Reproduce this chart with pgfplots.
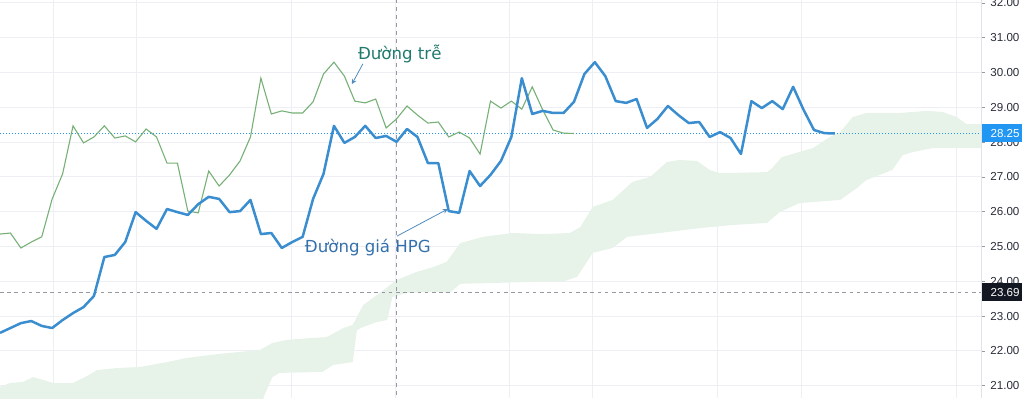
\documentclass[border=0pt]{standalone}
\usepackage{fontspec}
\setmainfont{DejaVu Sans}
\newfontfamily\tickfont{Liberation Sans}
\usepackage{pgfplots}
\pgfplotsset{compat=1.18}
\usetikzlibrary{arrows.meta}
\definecolor{pxblue}{RGB}{58,142,208}
\definecolor{lagg}{RGB}{118,176,118}
\definecolor{cloudg}{RGB}{231,243,232}
\definecolor{gridc}{RGB}{237,239,244}
\definecolor{lblc}{RGB}{40,44,56}
\definecolor{tvblue}{RGB}{33,150,243}
\definecolor{tvblack}{RGB}{19,23,34}
\definecolor{crossc}{RGB}{150,153,162}
\definecolor{teal}{RGB}{32,122,110}
\definecolor{annblue}{RGB}{52,112,172}
\definecolor{arrowc}{RGB}{80,140,190}
\definecolor{sepc}{RGB}{224,227,235}
\begin{document}
\begin{tikzpicture}
\useasboundingbox (0,0) rectangle (512pt,199pt);
\begin{axis}[
  at={(0,0)}, anchor=south west,
  scale only axis, width=490.5pt, height=199pt,
  xmin=0, xmax=94, ymin=20.649, ymax=32.086,
  axis line style={draw=none},
  ytick={21,22,23,24,25,26,27,28,29,30,31,32},
  yticklabels={21.00,22.00,23.00,24.00,25.00,26.00,27.00,28.00,29.00,30.00,31.00,32.00},
  ytick pos=right, yticklabel pos=right,
  yticklabel style={font=\tickfont\fontsize{5.8pt}{7pt}\selectfont, text=lblc, anchor=west, inner sep=0pt, xshift=2.5pt},
  ytick style={draw=crossc, line width=0.4pt},
  tick align=outside, major tick length=2pt,
  xtick={5.08,13.12,27.97,37.93,48.85,56.80,68.77,76.82,91.67},
  xticklabels={}, x tick style={draw=none},
  xmajorgrids, ymajorgrids,
  major grid style={gridc, line width=0.5pt},
]
% cloud
\addplot[fill=cloudg, draw=none] coordinates {
(0,20.97)(0.96,21.08)(2.20,21.11)(3.16,21.25)(4.12,21.17)(5.08,21.08)(6.99,21.08)(8.33,21.28)(9.29,21.45)(11.21,21.51)(13.41,21.54)(16.0,21.68)(17.9,21.80)(20.8,21.91)(24.9,22.03)(26.1,22.23)(27.5,22.32)(29.7,22.37)(31.3,22.40)(32.9,22.66)(33.8,22.75)(34.8,23.32)(36.4,23.67)(38.0,24.04)(39.9,24.27)(41.5,24.41)(42.8,24.56)(44.1,25.10)(46.3,25.28)(49.1,25.39)(52.0,25.36)(54.6,25.39)(55.6,25.56)(56.8,26.14)(58.7,26.34)(60.6,26.86)(62.3,27.00)(63.9,27.43)(65.1,27.49)(66.8,27.46)(68.0,27.20)(69.0,27.11)(73.5,27.14)(74.0,27.26)(74.9,27.57)(76.6,27.72)(77.9,27.83)(79.5,28.15)(80.5,28.29)(81.7,28.72)(83.0,28.84)(86.2,28.84)(88.8,28.90)(90.3,28.87)(91.7,28.72)(92.6,28.52)(94,28.52)
(94,27.83)(89.4,27.83)(87.5,27.72)(86.5,27.63)(85.5,27.20)(83.0,26.91)(82.1,26.68)(80.5,26.34)(76.6,26.25)(74.7,25.99)(73.5,25.68)(70.2,25.62)(67.0,25.53)(63.2,25.39)(60.1,25.28)(58.7,24.96)(56.8,24.82)(55.3,24.13)(54.1,24.01)(44.1,23.93)(43.1,23.67)(41.9,23.70)(39.0,23.67)(37.6,23.55)(37.1,22.89)(36.1,22.83)(34.8,22.69)(34.2,22.60)(33.8,21.68)(31.9,21.60)(30.9,21.40)(26.8,21.37)(26.1,21.25)(25.3,20.7)(25.0,20.4)(0,20.4)
} -- cycle;
% reference lines
\draw[crossc, line width=0.5pt, dash pattern=on 1.8pt off 1.8pt] (axis cs:0,23.69) -- (axis cs:94,23.69);
\draw[tvblue, line width=0.45pt, dash pattern=on 0.5pt off 1pt] (axis cs:0,28.25) -- (axis cs:94,28.25);
\draw[crossc, line width=0.5pt, dash pattern=on 2pt off 2pt] (axis cs:37.95,20.5) -- (axis cs:37.95,32.2);
% lagging span (close shifted back 25 bars)
\addplot[lagg, line width=0.55pt] coordinates {
(0,25.36)(1,25.39)(2,24.96)(3,25.13)(4,25.28)(5,26.37)(6,27.09)(7,28.47)(8,27.98)(9,28.15)(10,28.47)(11,28.12)(12,28.18)(13,28.01)(14,28.38)(15,28.15)(16,27.40)(17,27.40)(18,26.02)(19,25.97)(20,27.17)(21,26.74)(22,27.06)(23,27.46)(24,28.15)(25,29.84)(26,28.81)(27,28.90)(28,28.84)(29,28.84)(30,29.16)(31,29.96)(32,30.30)(33,29.90)(34,29.18)(35,29.13)(36,29.24)(37,28.41)(38,28.67)(39,29.04)(40,28.78)(41,28.55)(42,28.58)(43,28.15)(44,28.29)(45,28.12)(46,27.66)(47,29.18)(48,28.98)(49,29.18)(50,28.95)(51,29.59)(52,28.93)(53,28.35)(54,28.26)(55,28.25)
};
% price
\addplot[pxblue, line width=1.25pt, line join=round] coordinates {
(0,22.52)(1,22.66)(2,22.80)(3,22.86)(4,22.72)(5,22.66)(6,22.89)(7,23.09)(8,23.26)(9,23.58)(10,24.70)(11,24.76)(12,25.13)(13,25.99)(14,25.74)(15,25.51)(16,26.08)(17,25.99)(18,25.91)(19,26.22)(20,26.43)(21,26.37)(22,25.99)(23,26.02)(24,26.34)(25,25.36)(26,25.39)(27,24.96)(28,25.13)(29,25.28)(30,26.37)(31,27.09)(32,28.47)(33,27.98)(34,28.15)(35,28.47)(36,28.12)(37,28.18)(38,28.01)(39,28.38)(40,28.15)(41,27.40)(42,27.40)(43,26.02)(44,25.97)(45,27.17)(46,26.74)(47,27.06)(48,27.46)(49,28.15)(50,29.84)(51,28.81)(52,28.90)(53,28.84)(54,28.84)(55,29.16)(56,29.96)(57,30.30)(58,29.90)(59,29.18)(60,29.13)(61,29.24)(62,28.41)(63,28.67)(64,29.04)(65,28.78)(66,28.55)(67,28.58)(68,28.15)(69,28.29)(70,28.12)(71,27.66)(72,29.18)(73,28.98)(74,29.18)(75,28.95)(76,29.59)(77,28.93)(78,28.35)(79,28.26)(80,28.25)
};
% annotations
\node[teal, font=\fontsize{8.3pt}{10pt}\selectfont, anchor=base, inner sep=0pt] at (axis cs:38.31,30.39) {Đường trễ};
\draw[arrowc, line width=0.4pt, -{Stealth[length=2.5pt,width=2.5pt]}] (axis cs:34.77,30.25) -- (axis cs:33.72,29.67);
\node[annblue, font=\fontsize{8.3pt}{10pt}\selectfont, anchor=base, inner sep=0pt] at (axis cs:35.25,24.82) {Đường giá HPG};
\draw[arrowc, line width=0.4pt, -{Stealth[length=2.5pt,width=2.5pt]}] (axis cs:38.03,25.30) -- (axis cs:42.91,26.08);
\coordinate (pA) at (axis cs:94,28.25);
\coordinate (pB) at (axis cs:94,23.69);
\coordinate (sepT) at (axis cs:94,32.086);
\coordinate (sepB) at (axis cs:94,20.649);
\end{axis}
\draw[sepc, line width=0.5pt] (sepB) -- (sepT);
\node[fill=tvblue, text=white, font=\tickfont\fontsize{5.8pt}{7pt}\selectfont, anchor=west, minimum height=9pt, text width=20pt, inner xsep=0pt, inner ysep=0pt, align=left] at ([xshift=0.3pt]pA) {\hspace*{4.3pt}28.25};
\node[fill=tvblack, text=white, font=\tickfont\fontsize{5.8pt}{7pt}\selectfont, anchor=west, minimum height=9pt, text width=20pt, inner xsep=0pt, inner ysep=0pt, align=left] at ([xshift=0.3pt]pB) {\hspace*{4.3pt}23.69};
\end{tikzpicture}
\end{document}
